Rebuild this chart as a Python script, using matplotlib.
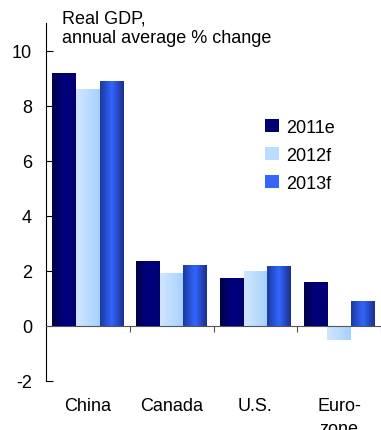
import matplotlib
matplotlib.use("Agg")
import matplotlib.pyplot as plt
import numpy as np
from matplotlib.patches import Patch
from matplotlib.colors import LinearSegmentedColormap
import matplotlib.transforms as mtransforms

plt.rcParams['font.family'] = ['Liberation Sans', 'DejaVu Sans']

categories = ["China", "Canada", "U.S.", "Euro-\nzone"]
series_names = ["2011e", "2012f", "2013f"]
v2011e = [9.2, 2.36, 1.74, 1.59]
v2012f = [8.6, 1.92, 1.99, -0.5]
v2013f = [8.9, 2.21, 2.17, 0.9]
yticks = [-2, 0, 2, 4, 6, 8, 10]

solid = ["#000070", "#bcdcff", "#3366ff"]
grads = [["#00004a", "#000080", "#000070"],
         ["#d0e6ff", "#bcdcff", "#a6cfff"],
         ["#1a3aa0", "#3366ff", "#1c2f8c"]]

fig = plt.figure(figsize=(3.81, 4.31), dpi=100)
ax = fig.add_axes([46/381, (431-382)/431, 335/381, (382-24)/431])

x = np.arange(len(categories))
w = 0.282
for i, vals in enumerate([v2011e, v2012f, v2013f]):
    bars = ax.bar(x + (i - 1) * w, vals, width=w, color=solid[i], label=series_names[i], zorder=2)
    cmap = LinearSegmentedColormap.from_list("g%d" % i, grads[i])
    grad = np.linspace(0, 1, 64).reshape(1, -1)
    for b in bars:
        x0, y0 = b.get_x(), b.get_y()
        x1, y1 = x0 + b.get_width(), y0 + b.get_height()
        im = ax.imshow(grad, extent=[x0, x1, min(y0, y1), max(y0, y1)], cmap=cmap,
                       aspect='auto', zorder=3, interpolation='bicubic')
        im.set_clip_path(b)

ax.set_xlim(-0.5, 3.5)
ax.set_ylim(-2, 11)
ax.set_yticks(yticks)
ax.set_yticklabels([str(t) for t in yticks], fontsize=13)
ax.tick_params(axis='y', direction='in', length=5, width=0.8, pad=10)
ax.spines['top'].set_visible(False)
ax.spines['right'].set_visible(False)
ax.spines['left'].set_bounds(-2, 11)
ax.spines['bottom'].set_position(('data', 0))
ax.spines['bottom'].set_color('#555555')
ax.spines['bottom'].set_zorder(4)
ax.set_xticks([0.5, 1.5, 2.5, 3.5])
ax.set_xticklabels([])
ax.tick_params(axis='x', direction='out', length=4, width=0.8, colors='#555555')

trans = mtransforms.blended_transform_factory(ax.transData, fig.transFigure)
for xi, c in zip(x, categories):
    ax.text(xi, 1 - 398/431, c, transform=trans, ha='center', va='top', fontsize=13,
            linespacing=1.5)

fig.text(62/381, 1 - 11/431, "Real GDP,\nannual average % change", ha='left', va='top',
         fontsize=13, linespacing=1.15)

handles = [Patch(facecolor=solid[i], label=series_names[i]) for i in range(3)]
ax.legend(handles=handles, loc='upper left', bbox_to_anchor=(265/381, 1 - 120/431),
          bbox_transform=fig.transFigure, frameon=False, fontsize=13,
          handlelength=0.75, handleheight=0.75, handletextpad=0.4, labelspacing=0.6,
          borderpad=0, borderaxespad=0)

fig.savefig("out.png", dpi=100)
